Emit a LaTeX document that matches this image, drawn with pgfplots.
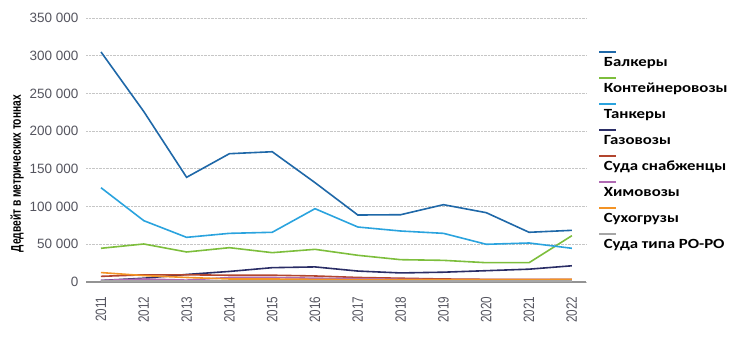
\documentclass[border=0pt]{standalone}
\usepackage{fontspec}
\setmainfont{Liberation Sans}
\newfontfamily\legfont[FakeStretch=1.2]{Carlito}
\newfontfamily\narrowfont[FakeStretch=0.78]{Liberation Sans}
\newfontfamily\labfont[FakeStretch=0.73]{Liberation Sans}
\usepackage{pgfplots}
\pgfplotsset{compat=1.18}
\definecolor{cBalk}{HTML}{1F68A8}
\definecolor{cCont}{HTML}{7DBE3C}
\definecolor{cTank}{HTML}{2AA3DE}
\definecolor{cGas}{HTML}{2A2D66}
\definecolor{cSupp}{HTML}{B2452E}
\definecolor{cChem}{HTML}{B06AB3}
\definecolor{cDry}{HTML}{F39325}
\definecolor{cRoro}{HTML}{A6A6A6}
\definecolor{tickgray}{HTML}{55555F}
\begin{document}
\begin{tikzpicture}[x=1pt,y=1pt]
\useasboundingbox (0,0) rectangle (741,337);
\begin{axis}[
  at={(86pt,55pt)}, anchor=south west,
  scale only axis, width=500pt, height=264pt,
  xmin=2010.65, xmax=2022.33, ymin=0, ymax=350000,
  scaled y ticks=false,
  axis x line*=bottom, axis y line*=left,
  separate axis lines,
  x axis line style={draw=gray!85, line width=1.8pt, -},
  y axis line style={draw=none},
  major tick length=0pt,
  ymajorgrids, grid style={densely dotted, gray!45, line width=0.9pt},
  ytick={0,50000,100000,150000,200000,250000,300000,350000},
  yticklabels={0,50 000,100 000,150 000,200 000,250 000,300 000,350 000},
  yticklabel style={font=\fontsize{13.5}{14}\selectfont, text=tickgray, xshift=-4pt},
  xtick={2011,...,2022},
  xticklabels={2011,2012,2013,2014,2015,2016,2017,2018,2019,2020,2021,2022},
  xticklabel style={rotate=90, anchor=east, font=\narrowfont\fontsize{15}{15}\selectfont, text=tickgray, xshift=-11pt},
  ylabel={Дедвейт в метрических тоннах},
  ylabel style={at={(axis description cs:-0.138,0.41)}, anchor=center, font=\labfont\bfseries\fontsize{14}{15}\selectfont},
  legend style={at={(axis description cs:1.032,0.855)}, anchor=north west, draw=none, fill=none,
    font=\legfont\bfseries\fontsize{14}{15}\selectfont, row sep=13pt, inner sep=0pt,
    nodes={inner sep=0pt, text height=10pt, text depth=3pt}, cells={anchor=west}},
  legend image code/.code={\draw[#1, overlay, line width=2pt] (-4pt,10.5pt) -- (13pt,10.5pt); \path (0,0);},
  legend cell align=left,
  every axis plot/.append style={line width=1.6pt, mark=none},
]
\addplot[cBalk] coordinates {(2011,305000)(2012,226000)(2013,138800)(2014,170100)(2015,172700)(2016,131700)(2017,88800)(2018,89200)(2019,102500)(2020,91900)(2021,65900)(2022,68500)};
\addlegendentry{Балкеры}
\addplot[cCont] coordinates {(2011,44700)(2012,50400)(2013,39800)(2014,45500)(2015,38900)(2016,43300)(2017,35400)(2018,29600)(2019,28700)(2020,25600)(2021,25600)(2022,61400)};
\addlegendentry{Контейнеровозы}
\addplot[cTank] coordinates {(2011,125000)(2012,81300)(2013,59200)(2014,64500)(2015,65900)(2016,97200)(2017,72900)(2018,67600)(2019,64500)(2020,50000)(2021,51700)(2022,44700)};
\addlegendentry{Танкеры}
\addplot[cGas] coordinates {(2011,2000)(2012,5000)(2013,10000)(2014,14000)(2015,19000)(2016,20000)(2017,14500)(2018,12000)(2019,13000)(2020,15000)(2021,17000)(2022,21500)};
\addlegendentry{Газовозы}
\addplot[cSupp] coordinates {(2011,7500)(2012,9500)(2013,9500)(2014,9000)(2015,9000)(2016,8000)(2017,6000)(2018,5000)(2019,4000)(2020,3500)(2021,3500)(2022,3500)};
\addlegendentry{Суда снабженцы}
\addplot[cChem] coordinates {(2011,2000)(2012,4000)(2013,2500)(2014,6000)(2015,6000)(2016,5000)(2017,4500)(2018,3500)(2019,3000)(2020,3000)(2021,3000)(2022,3000)};
\addlegendentry{Химовозы}
\addplot[cDry] coordinates {(2011,12500)(2012,8500)(2013,6000)(2014,4000)(2015,4000)(2016,3500)(2017,3000)(2018,3000)(2019,3000)(2020,3000)(2021,3000)(2022,3500)};
\addlegendentry{Сухогрузы}
\addplot[cRoro] coordinates {(2011,1000)(2012,1000)(2013,1000)(2014,1000)(2015,1000)(2016,1000)(2017,1000)(2018,1000)(2019,1000)(2020,1000)(2021,1000)(2022,1000)};
\addlegendentry{Суда типа РО-РО}
\end{axis}
\end{tikzpicture}
\end{document}
